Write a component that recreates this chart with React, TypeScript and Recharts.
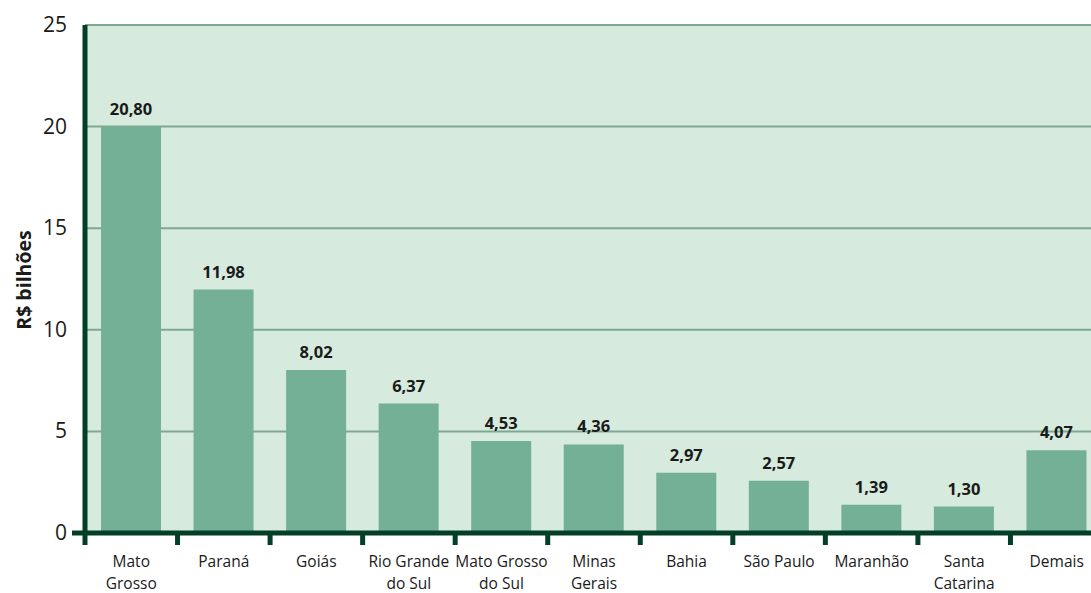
import React from "react";
import { BarChart, Bar, XAxis, YAxis, CartesianGrid, LabelList } from "recharts";

const categories: string[] = [
  "Mato Grosso",
  "Paraná",
  "Goiás",
  "Rio Grande do Sul",
  "Mato Grosso do Sul",
  "Minas Gerais",
  "Bahia",
  "São Paulo",
  "Maranhão",
  "Santa Catarina",
  "Demais",
];
const categoryLines: string[][] = [
  ["Mato", "Grosso"],
  ["Paraná"],
  ["Goiás"],
  ["Rio Grande", "do Sul"],
  ["Mato Grosso", "do Sul"],
  ["Minas", "Gerais"],
  ["Bahia"],
  ["São Paulo"],
  ["Maranhão"],
  ["Santa", "Catarina"],
  ["Demais"],
];
// bar heights as drawn in the reference (Mato Grosso bar is drawn to 20)
const barValues: number[] = [20.0, 11.98, 8.02, 6.37, 4.53, 4.36, 2.97, 2.57, 1.39, 1.3, 4.07];
const valueLabels: string[] = ["20,80", "11,98", "8,02", "6,37", "4,53", "4,36", "2,97", "2,57", "1,39", "1,30", "4,07"];
const yTicks: number[] = [0, 5, 10, 15, 20, 25];
const yAxisTitle = "R$ bilhões";

const data = categories.map((c, i) => ({
  name: c,
  value: barValues[i],
  label: valueLabels[i],
  lines: categoryLines[i],
}));

const FONT = "'Open Sans', 'Noto Sans', sans-serif";
const AXIS = "#023f26";
const TEXT = "#1a1a1a";

const XTick = (props: any) => {
  const { x, y, payload, index } = props;
  const off = payload && payload.offset != null ? payload.offset : 46;
  const lines: string[] = data[index] ? data[index].lines : [String(payload.value)];
  return (
    <g>
      <line x1={x - off} x2={x - off} y1={y} y2={y + 12} stroke={AXIS} strokeWidth={5} />
      {lines.map((l, k) => (
        <text
          key={k}
          x={x}
          y={y + 34 + k * 22}
          textAnchor="middle"
          fontFamily={FONT}
          fontSize={15.5}
          fill={TEXT}
        >
          {l}
        </text>
      ))}
    </g>
  );
};

const YTick = (props: any) => {
  const { x, y, payload } = props;
  return (
    <g>
      {payload.value === 0 && (
        <line x1={x + 5} x2={x + 18} y1={y} y2={y} stroke={AXIS} strokeWidth={5} />
      )}
      <text x={x} y={y + 7} textAnchor="end" fontFamily={FONT} fontSize={21} fill={TEXT}>
        {payload.value}
      </text>
    </g>
  );
};

const YLabel = (props: any) => {
  const vb = props.viewBox || { x: 0, y: 25, width: 85, height: 508 };
  const cx = 23;
  const cy = vb.y + vb.height / 2 + 1;
  return (
    <text
      x={cx}
      y={cy}
      transform={`rotate(-90, ${cx}, ${cy})`}
      textAnchor="middle"
      dominantBaseline="central"
      fontFamily={FONT}
      fontWeight="bold"
      fontSize={19.5}
      fill={TEXT}
    >
      {yAxisTitle}
    </text>
  );
};

const ValueLabel = (props: any) => {
  const { x, y, width, index } = props;
  return (
    <text
      x={x + width / 2}
      y={y - 12}
      textAnchor="middle"
      fontFamily={FONT}
      fontWeight="bold"
      fontSize={16.5}
      fill={TEXT}
    >
      {valueLabels[index]}
    </text>
  );
};

export default function App() {
  return (
    <div
      style={{
        position: "absolute",
        left: 0,
        top: 0,
        width: 1091,
        height: 593,
        overflow: "hidden",
      }}
    >
      <BarChart
        width={1103}
        height={593}
        data={data}
        margin={{ top: 25, right: 0, bottom: 0, left: 0 }}
        barSize={60}
      >
        <CartesianGrid
          vertical={false}
          horizontal={true}
          fill="#d6eadd"
          fillOpacity={1}
          stroke="#7fa891"
          strokeWidth={2}
        />
        <XAxis
          dataKey="name"
          height={60}
          interval={0}
          tickLine={false}
          tickSize={0}
          tickMargin={0}
          axisLine={{ stroke: AXIS, strokeWidth: 5 }}
          tick={<XTick />}
        />
        <YAxis
          width={85}
          domain={[0, 25]}
          ticks={yTicks}
          interval={0}
          tickLine={false}
          tickSize={0}
          tickMargin={18}
          axisLine={{ stroke: AXIS, strokeWidth: 5 }}
          tick={<YTick />}
          label={<YLabel />}
        />
        <Bar dataKey="value" fill="#73b096" isAnimationActive={false}>
          <LabelList dataKey="label" content={<ValueLabel />} />
        </Bar>
      </BarChart>
    </div>
  );
}
